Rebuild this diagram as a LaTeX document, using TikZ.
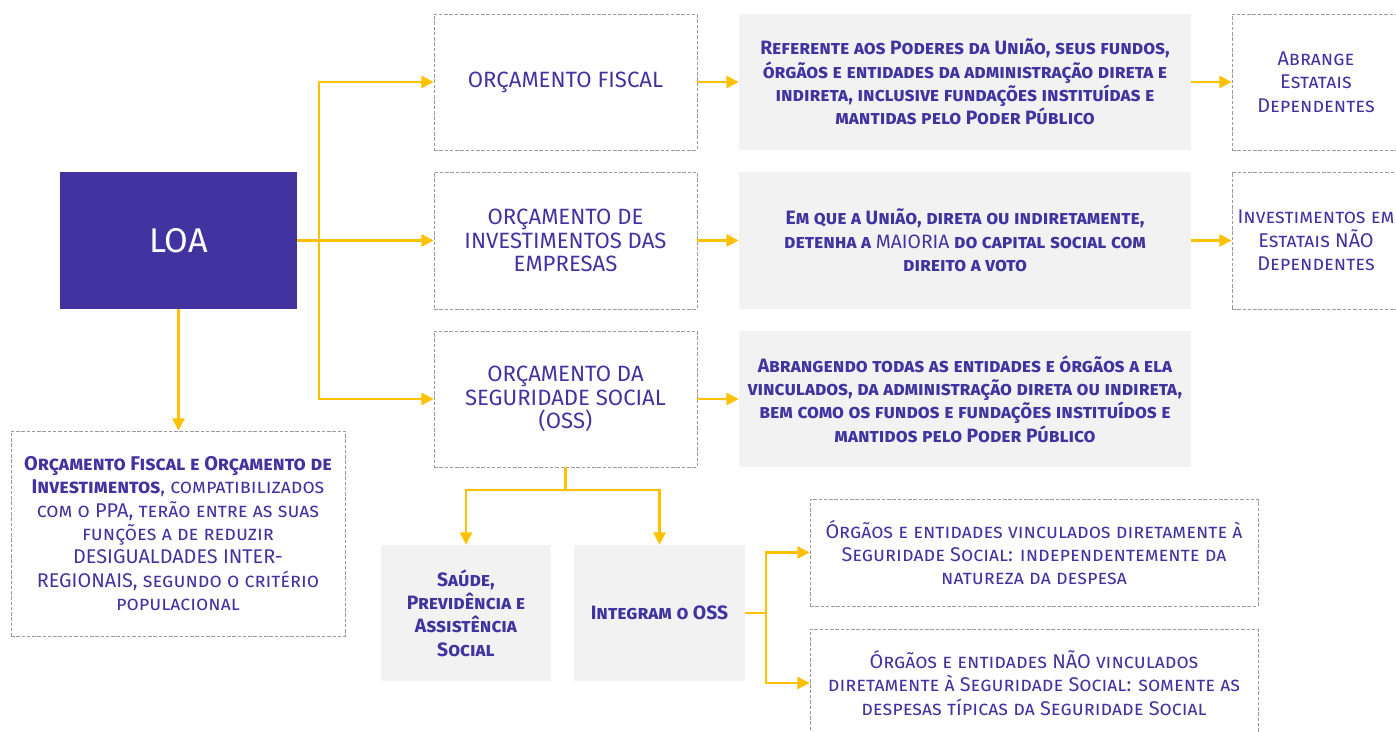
\documentclass[tikz,border=0pt]{standalone}
\usepackage{fontspec}
\setmainfont{Fira Sans}
\usepackage{xcolor}
\usepackage{tikz}
\usetikzlibrary{arrows.meta, positioning, calc}
\definecolor{loapurple}{HTML}{4333A0}
\definecolor{arrowgold}{HTML}{FFC000}
\definecolor{boxgray}{HTML}{F2F2F2}
\definecolor{dashgray}{HTML}{9A9A9A}
\begin{document}
\begin{tikzpicture}[x=0.02cm, y=-0.02cm,
	sz/.style 2 args={minimum width=#1*0.02cm, minimum height=#2*0.02cm},
	dashbox/.style={draw=dashgray, dash pattern=on 2pt off 1pt, line width=0.5pt, inner sep=0pt,
		text=loapurple, align=center, font={\fontsize{11.3}{13.3}\selectfont\scshape}},
	titlebox/.style={dashbox, font={\fontsize{12.6}{13.3}\selectfont}},
	graybox/.style={fill=boxgray, inner sep=0pt, text=loapurple, align=center,
		font={\fontsize{11}{13.3}\selectfont\scshape\bfseries}},
	arr/.style={draw=arrowgold, line width=1.2pt, -{Triangle[length=7pt,width=7pt]}},
	link/.style={draw=arrowgold, line width=1.2pt}]
			\useasboundingbox (0,0) rectangle (1396,732);
			\node[fill=loapurple, text=white, sz={237}{137}, font=\fontsize{19.5}{21}\selectfont] (loa) at (178.5,240.5) {LOA};
			\node[titlebox, sz={263}{136}] (of) at (565.5,82) {ORÇAMENTO FISCAL};
			\node[graybox, sz={452}{136}] (ref) at (965,82)
			{Referente aos Poderes da União, seus fundos,\\órgãos e entidades da administração direta e\\indireta, inclusive fundações instituídas e\\mantidas pelo Poder Público};
			\node[dashbox, sz={168}{136}] (abr) at (1316,82) {Abrange\\Estatais\\Dependentes};
			\node[titlebox, sz={263}{137}] (oie) at (565.5,240.5) {ORÇAMENTO DE\\INVESTIMENTOS DAS\\EMPRESAS};
			\node[graybox, sz={452}{137}] (emq) at (965,240.5)
			{Em que a União, direta ou indiretamente,\\detenha a {\mdseries MAIORIA} do capital social com\\direito a voto};
			\node[dashbox, sz={168}{137}] (inv) at (1316,240.5) {Investimentos em\\Estatais NÃO\\Dependentes};
			\node[titlebox, sz={263}{136}] (oss) at (565.5,399) {ORÇAMENTO DA\\SEGURIDADE SOCIAL\\(OSS)};
			\node[graybox, sz={452}{136}] (abrg) at (965,399)
			{Abrangendo todas as entidades e órgãos a ela\\vinculados, da administração direta ou indireta,\\bem como os fundos e fundações instituídos e\\mantidos pelo Poder Público};
			\node[dashbox, sz={334}{205}] (ppa) at (178,533.5)
			{{\bfseries Orçamento Fiscal e Orçamento de}\\{\bfseries Investimentos}, compatibilizados\\com o PPA, terão entre as suas\\funções a de reduzir\\DESIGUALDADES INTER-\\REGIONAIS, segundo o critério\\populacional};
			\node[graybox, sz={170}{136}] (sau) at (466,613) {Saúde,\\Previdência e\\Assistência\\Social};
			\node[graybox, sz={171}{136}] (intg) at (659.5,613) {Integram o OSS};
			\node[dashbox, sz={448}{107}] (org1) at (1034,552.5)
			{Órgãos e entidades vinculados diretamente à\\Seguridade Social: independentemente da\\natureza da despesa};
			\node[dashbox, sz={448}{108}] (org2) at (1034,683)
			{Órgãos e entidades NÃO vinculados\\diretamente à Seguridade Social: somente as\\despesas típicas da Seguridade Social};
			\coordinate (loafork) at (319,240.5);
			\coordinate (ossfork) at (565.5,490);
			\coordinate (intfork) at (766,613);
			\draw[arr] (loa.east) -- (oie.west);
			\draw[arr] (loafork) |- (of.west);
			\draw[arr] (loafork) |- (oss.west);
			\draw[arr] (loa.south) -- (loa.south |- ppa.north);
			\draw[arr] (of.east) -- (ref.west);
			\draw[arr] (ref.east) -- (abr.west);
			\draw[arr] (oie.east) -- (emq.west);
			\draw[arr] (emq.east) -- (inv.west);
			\draw[arr] (oss.east) -- (abrg.west);
			\draw[link] (oss.south) -- (ossfork);
			\draw[arr] (ossfork) -| (sau.north);
			\draw[arr] (ossfork) -| (intg.north);
			\draw[link] (intg.east) -- (intfork);
			\draw[arr] (intfork) |- (org1.west);
			\draw[arr] (intfork) |- (org2.west);
		\end{tikzpicture}
\end{document}
